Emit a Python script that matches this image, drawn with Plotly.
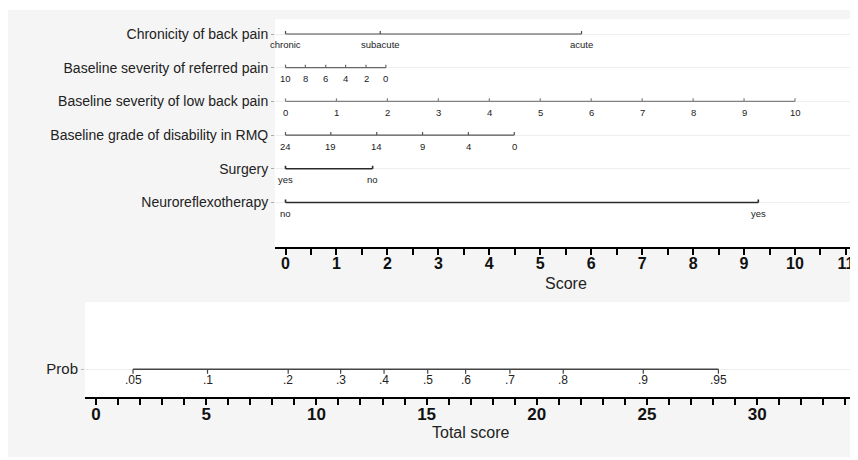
import plotly.graph_objects as go

# ---------------- data ----------------
row_names = [
    "Chronicity of back pain",
    "Baseline severity of referred pain",
    "Baseline severity of low back pain",
    "Baseline grade of disability in RMQ",
    "Surgery",
    "Neuroreflexotherapy",
]

chronicity_labels = ["chronic", "subacute", "acute"]
chronicity_points = [0.0, 1.86, 5.81]

referred_labels = ["10", "8", "6", "4", "2", "0"]
referred_points = [0.0, 0.39, 0.79, 1.18, 1.58, 1.97]

lowback_labels = ["0", "1", "2", "3", "4", "5", "6", "7", "8", "9", "10"]
lowback_points = [0.0, 1.0, 2.0, 3.0, 4.0, 5.0, 6.0, 7.0, 8.0, 9.0, 10.0]

rmq_labels = ["24", "19", "14", "9", "4", "0"]
rmq_points = [0.0, 0.89, 1.79, 2.69, 3.59, 4.49]

surgery_labels = ["yes", "no"]
surgery_points = [0.0, 1.71]

neuro_labels = ["no", "yes"]
neuro_points = [0.0, 9.28]

prob_labels = [".05", ".1", ".2", ".3", ".4", ".5", ".6", ".7", ".8", ".9", ".95"]
prob_total_score = [1.68, 5.06, 8.72, 11.10, 13.07, 15.05, 16.77, 18.78, 21.20, 24.83, 28.24]

score_ticks = [0, 1, 2, 3, 4, 5, 6, 7, 8, 9, 10, 11]
total_ticks = [0, 5, 10, 15, 20, 25, 30]

# ---------------- styling ----------------
FONT = "Liberation Sans, Arial, Helvetica, sans-serif"
OFF = 8                 # page body margin
W, H = 850, 452


def fx(px):
    return (px - OFF) / W


def fy(py):
    return 1 - (py - OFF) / H


row_colors = ["#4a4a4a", "#666666", "#808080", "#555555", "#2a2a2a", "#2a2a2a"]
row_widths = [1.2, 1.2, 1.2, 1.2, 1.6, 1.6]
TICK_UP = 0.09      # upward tick height in row units (top panel)
TICK_DOWN = 0.45    # downward tick height (prob row)

rows = [
    (chronicity_labels, chronicity_points),
    (referred_labels, referred_points),
    (lowback_labels, lowback_points),
    (rmq_labels, rmq_points),
    (surgery_labels, surgery_points),
    (neuro_labels, neuro_points),
]
n_rows = len(rows)
row_y = [n_rows - i for i in range(n_rows)]

fig = go.Figure()
annotations = []

for (labels, pts), y, col, lw in zip(rows, row_y, row_colors, row_widths):
    fig.add_trace(go.Scatter(
        x=[min(pts), max(pts)], y=[y, y], mode="lines",
        line=dict(color=col, width=lw), hoverinfo="skip", showlegend=False,
        xaxis="x", yaxis="y"))
    tx, ty = [], []
    for p in pts:
        tx += [p, p, None]
        ty += [y, y + TICK_UP, None]
    fig.add_trace(go.Scatter(
        x=tx, y=ty, mode="lines", line=dict(color=col, width=lw),
        hoverinfo="skip", showlegend=False, xaxis="x", yaxis="y"))
    for lab, p in zip(labels, pts):
        annotations.append(dict(
            x=p, y=y, xref="x", yref="y", text=lab, showarrow=False,
            xanchor="center", yanchor="middle", yshift=-11,
            font=dict(family=FONT, size=9.5, color="#222")))

# probability row
fig.add_trace(go.Scatter(
    x=[min(prob_total_score), max(prob_total_score)], y=[0, 0], mode="lines",
    line=dict(color="#444", width=1.5), hoverinfo="skip", showlegend=False,
    xaxis="x2", yaxis="y2"))
px_, py_ = [], []
for p in prob_total_score:
    px_ += [p, p, None]
    py_ += [0, -TICK_DOWN, None]
fig.add_trace(go.Scatter(
    x=px_, y=py_, mode="lines", line=dict(color="#444", width=1.2),
    hoverinfo="skip", showlegend=False, xaxis="x2", yaxis="y2"))
for lab, p in zip(prob_labels, prob_total_score):
    annotations.append(dict(
        x=p, y=0, xref="x2", yref="y2", text=lab, showarrow=False,
        xanchor="center", yanchor="middle", yshift=-11,
        font=dict(family=FONT, size=12, color="#222")))

# axis titles
annotations.append(dict(x=0.5, xref="x domain", y=fy(283), yref="paper",
                        text="Score", showarrow=False, xanchor="center", yanchor="middle",
                        font=dict(family=FONT, size=16, color="#222")))
annotations.append(dict(x=0.5, xref="x2 domain", y=fy(432), yref="paper",
                        text="Total score", showarrow=False, xanchor="center", yanchor="middle",
                        font=dict(family=FONT, size=16, color="#222")))

# white frame round the grey panel
shapes = [
    dict(type="rect", xref="paper", yref="paper", x0=0, x1=1, y0=fy(10), y1=1,
         fillcolor="white", line=dict(width=0), layer="below"),
    dict(type="rect", xref="paper", yref="paper", x0=0, x1=1, y0=0, y1=fy(457),
         fillcolor="white", line=dict(width=0), layer="below"),
    dict(type="rect", xref="paper", yref="paper", x0=fx(856), x1=1, y0=0, y1=1,
         fillcolor="white", line=dict(width=0), layer="below"),
]

top_px = (-10.5 / 50.95, 570.5 / 50.95)
bot_px = (-11 / 22.04, 760 / 22.04)

fig.update_layout(
    width=W, height=H,
    margin=dict(l=0, r=0, t=0, b=0, autoexpand=False),
    paper_bgcolor="#f5f5f5", plot_bgcolor="white",
    annotations=annotations, shapes=shapes,
    xaxis=dict(
        domain=[fx(275), fx(856)], range=list(top_px), anchor="y", automargin=False,
        tickmode="array", tickvals=score_ticks, ticktext=[str(t) for t in score_ticks],
        ticks="outside", ticklen=6, tickwidth=1.5, tickcolor="black",
        minor=dict(dtick=0.5, tick0=0, ticks="outside", ticklen=6, tickwidth=1.5, tickcolor="black", showgrid=False),
        showline=True, linecolor="black", linewidth=1.5, showgrid=False, zeroline=False,
        ticklabelstandoff=-5,
        tickfont=dict(family=FONT, size=16, color="#111", weight="bold"),
    ),
    yaxis=dict(
        domain=[fy(247), fy(19)], range=[-0.32, 6.445], anchor="x", automargin=False,
        tickmode="array", tickvals=row_y, ticktext=row_names,
        ticks="outside", ticklen=3, tickcolor="#aaa", tickwidth=1,
        showgrid=True, gridcolor="#eeeeee", gridwidth=1, zeroline=False, showline=False,
        tickfont=dict(family=FONT, size=14, color="#222"),
    ),
    xaxis2=dict(
        domain=[fx(85), fx(856)], range=list(bot_px), anchor="y2", automargin=False,
        tickmode="array", tickvals=total_ticks, ticktext=[str(t) for t in total_ticks],
        ticks="outside", ticklen=6, tickwidth=1.5, tickcolor="black",
        minor=dict(dtick=1, tick0=0, ticks="outside", ticklen=6, tickwidth=1.5, tickcolor="black", showgrid=False),
        showline=True, linecolor="black", linewidth=1.5, showgrid=False, zeroline=False,
        ticklabelstandoff=-5,
        tickfont=dict(family=FONT, size=17, color="#111", weight="bold"),
    ),
    yaxis2=dict(
        domain=[fy(397.3), fy(302)], range=[-2.8, 6.7], anchor="x2", automargin=False,
        tickmode="array", tickvals=[0], ticktext=["Prob"],
        ticks="outside", ticklen=3, tickcolor="#bbb",
        showgrid=True, gridcolor="#eeeeee", zeroline=False, showline=False,
        tickfont=dict(family=FONT, size=15, color="#222"),
    ),
)

fig.write_html("out.html")
